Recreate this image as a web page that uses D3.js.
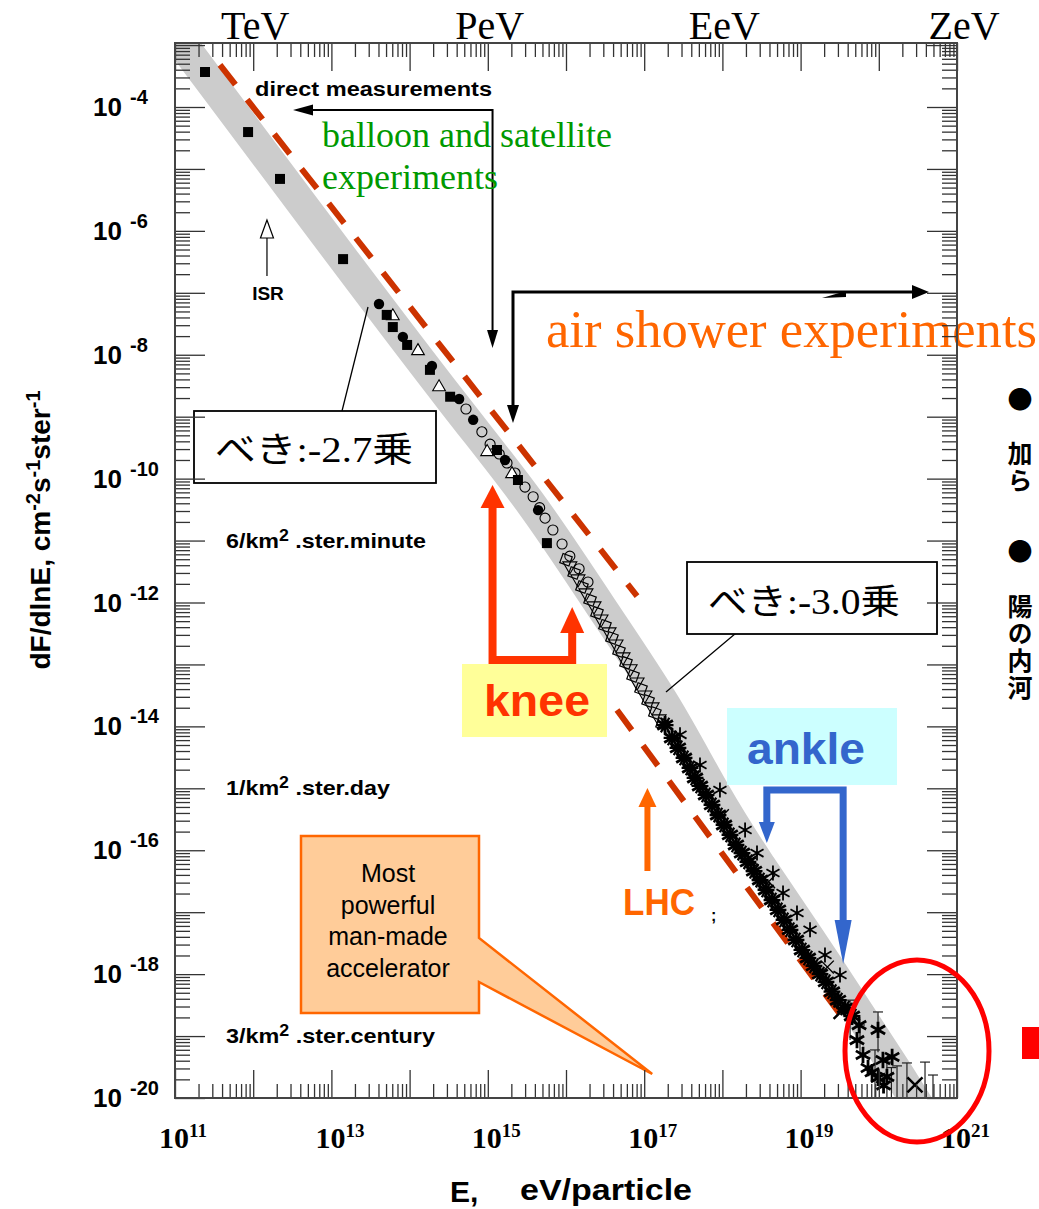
<!DOCTYPE html>
<html>
<head>
<meta charset="utf-8">
<script src="https://cdn.jsdelivr.net/npm/d3@7"></script>
<style>
  body { margin: 0; background: #fff; }
</style>
</head>
<body>
<div id="chart"></div>
<script>
// ---- data (E in eV, flux dF/dlnE in cm^-2 s^-1 ster^-1) ----

// grey band: centre of the world-data envelope
const bandE = [6.4e10, 2.35e11, 1.58e13, 4.42e14, 3.78e15, 2.72e16, 2.01e17, 8.0e17, 3.03e18, 1.24e19, 7.7e19, 1.87e20, 6.07e20];
const bandF = [3.17e-3, 3.54e-4, 2.92e-7, 1.15e-9, 4.05e-11, 8.8e-13, 2.21e-14, 7.8e-16, 5.6e-17, 4.3e-18, 1.26e-19, 2.27e-20, 2.1e-21];

// red dashed power laws (two pieces)
const fit1E = [3.76e11, 8.1e16], fit1F = [4.77e-4, 1.27e-12];
const fit2E = [4.49e16, 4.29e19], fit2F = [1.84e-14, 1.35e-19];

// direct measurements + low energy air showers
const filledSquares = [[2.42e11, 3.67e-4], [8.6e11, 3.94e-5], [2.2e12, 6.9e-6], [1.41e13, 3.5e-7],
  [5.1e13, 4.4e-8], [6.1e13, 2.8e-8], [9.3e13, 1.44e-8], [1.82e14, 5.7e-9], [3.3e14, 2.1e-9],
  [1.31e15, 2.9e-10], [2.43e15, 9.5e-11], [5.7e15, 9.1e-12]];
const filledCircles = [[4.06e13, 6.6e-8], [8.2e13, 1.94e-8], [1.93e14, 6.6e-9], [4.3e14, 1.93e-9],
  [6.5e14, 8.9e-10], [1.66e15, 2.0e-10], [4.4e15, 3.1e-11]];
const openTriangles = [[6.1e13, 4.2e-8], [1.28e14, 1.15e-8], [2.38e14, 3.0e-9], [9.8e14, 2.7e-10], [2.04e15, 1.19e-10]];
const openCircles = [[5.26e14, 1.33e-9], [8.4e14, 5.7e-10], [1.07e15, 3.6e-10], [1.4e15, 2.5e-10], [1.76e15, 1.79e-10],
  [2.23e15, 1.23e-10], [2.99e15, 7.3e-11], [3.8e15, 5.1e-11], [4.6e15, 3.4e-11], [5.4e15, 2.3e-11], [6.8e15, 1.48e-11],
  [8.9e15, 8.8e-12], [1.12e16, 5.6e-12], [1.47e16, 3.5e-12], [1.91e16, 2.14e-12]];
const openSquares = [[1.0e16, 4.9e-12], [1.27e16, 3.0e-12], [1.6e16, 1.78e-12], [2.03e16, 1.1e-12],
  [2.49e16, 6.8e-13], [3.15e16, 4.2e-13], [3.87e16, 2.68e-13], [4.76e16, 1.65e-13], [5.85e16, 1.06e-13],
  [7.2e16, 6.5e-14], [9.1e16, 4.0e-14], [1.12e17, 2.57e-14], [1.37e17, 1.65e-14], [1.69e17, 1.09e-14]];
const openDownTriangles = [[1.12e16, 3.9e-12], [1.42e16, 2.4e-12], [1.8e16, 1.43e-12], [2.28e16, 8.8e-13],
  [2.8e16, 5.4e-13], [3.55e16, 3.35e-13], [4.36e16, 2.14e-13], [5.36e16, 1.32e-13], [6.6e16, 8.5e-14],
  [8.1e16, 5.2e-14], [1.02e17, 3.2e-14], [1.26e17, 2.06e-14], [1.55e17, 1.32e-14]];

// high energy air shower data
const stars = [[1.85e17, 1.05e-14], [2.27e17, 6.5e-15], [2.7e17, 4.5e-15], [3.23e17, 3.09e-15],
  [3.85e17, 2.13e-15], [4.47e17, 1.47e-15], [5.17e17, 1.09e-15], [6.17e17, 7.8e-16], [7.36e17, 5.4e-16],
  [8.79e17, 3.7e-16], [1.05e18, 2.56e-16], [1.25e18, 1.77e-16], [1.49e18, 1.22e-16], [1.78e18, 9.0e-17],
  [2.12e18, 6.5e-17], [2.54e18, 4.6e-17], [3.03e18, 3.3e-17], [3.61e18, 2.29e-17], [4.31e18, 1.57e-17],
  [5.14e18, 1.09e-17], [6.14e18, 7.5e-18], [7.31e18, 5.2e-18], [8.73e18, 3.56e-18], [1.04e19, 2.45e-18],
  [1.24e19, 1.82e-18], [1.48e19, 1.36e-18], [1.77e19, 1.0e-18], [2.11e19, 7.5e-19], [2.52e19, 5.2e-19],
  [3.01e19, 3.8e-19], [3.7e19, 2.84e-19], [4.54e19, 2.11e-19]];
const stars2 = [[2.87e17, 7.3e-15], [5.17e17, 2.38e-15], [9.3e17, 9.4e-16], [1.95e18, 2.12e-16],
  [2.77e18, 9.0e-17], [4.43e18, 4.3e-17], [5.96e18, 2.04e-17], [8.99e18, 9.7e-18], [1.32e19, 5.2e-18],
  [2.05e19, 2.04e-18], [3.19e19, 9.7e-19]];
const crosses = [[1.0e18, 3.6e-16], [2.4e18, 7.0e-17], [3.9e18, 3.1e-17], [2.2e19, 1.3e-18]];
const tailStars = [[5.26e19, 8.6e-20], [6.28e19, 4.95e-20], [9.77e19, 1.26e-19], [7.28e19, 3.05e-20],
  [1.13e20, 4.1e-20], [1.27e20, 2.19e-20], [9.77e19, 2.11e-20], [1.48e20, 4.6e-20], [5.6e19, 1.5e-19],
  [8.2e19, 2.6e-20], [1.15e20, 1.6e-20]];
const tailCross = [[2.9e20, 1.63e-20], [3.3e19, 2.5e-19]];
const tailPlus = [[4.66e20, 1.51e-20]];
// error bars: energy, upper flux, lower flux
const errE = [4.29e19, 5.75e19, 9.77e19, 8.94e19, 1.27e20, 1.71e20, 2.29e20, 3.9e20, 4.93e20, 1.45e20];
const errHi = [3.8e-19, 1.51e-19, 2.45e-19, 5.97e-20, 3.8e-20, 3.3e-20, 3.68e-20, 3.8e-20, 2.35e-20, 3.1e-20];
const errLo = [8.6e-20, 4.95e-20, 5.5e-20, 1e-21, 1e-21, 1e-21, 1e-21, 1e-21, 1e-21, 1e-21];

// axis labels
const topLabels = [["TeV", 1e12], ["PeV", 1e15], ["EeV", 1e18], ["ZeV", 1e21]];
const xLabelExp = [11, 13, 15, 17, 19, 21];
const yLabelExp = [-4, -6, -8, -10, -12, -14, -16, -18, -20];
const rateLabels = [["6/km", " .ster.minute", 1e-11, 200], ["1/km", " .ster.day", 1e-15, 164], ["3/km", " .ster.century", 1e-19, 209]];

// ---- drawing ----
const W = 1039, H = 1209;
const plotTop = 43;
const svg = d3.select("#chart").append("svg")
  .attr("width", W).attr("height", H)
  .style("font-family", "'Liberation Sans', Arial, sans-serif");
svg.append("rect").attr("width", W).attr("height", H).attr("fill", "#fff");

const x = d3.scaleLog().domain([1e11, 1e21]).range([175, 957]);
const y = d3.scaleLog().domain([1e-20, 1e-4]).range([1098, 107]);
const x0 = x.range()[0], x1 = x.range()[1], y0 = y.range()[0];

svg.append("clipPath").attr("id", "plotclip").append("rect")
  .attr("x", x0).attr("y", plotTop).attr("width", x1 - x0).attr("height", y0 - plotTop);

const plot = svg.append("g").attr("clip-path", "url(#plotclip)");

// grey band
const line = d3.line().x(d => x(d[0])).y(d => y(d[1]));
plot.append("path")
  .datum(d3.zip(bandE, bandF))
  .attr("d", line.curve(d3.curveBasis))
  .attr("fill", "none").attr("stroke", "#cccccc").attr("stroke-width", 31);

// dashed fits
const straight = d3.line().x(d => x(d[0])).y(d => y(d[1]));
[[fit1E, fit1F], [fit2E, fit2F]].forEach(f => {
  plot.append("path").datum(d3.zip(f[0], f[1]))
    .attr("d", straight)
    .attr("fill", "none").attr("stroke", "#cc3300").attr("stroke-width", 6)
    .attr("stroke-dasharray", "25,19");
});

// error bars
const eb = plot.append("g").attr("stroke", "#222").attr("stroke-width", 1.2);
errE.forEach((e, i) => {
  eb.append("line").attr("x1", x(e)).attr("x2", x(e)).attr("y1", y(errHi[i])).attr("y2", y(errLo[i]));
  eb.append("line").attr("x1", x(e) - 5).attr("x2", x(e) + 5).attr("y1", y(errHi[i])).attr("y2", y(errHi[i]));
});

function marks(data, type, size, fill, stroke, sw, rot) {
  plot.append("g").selectAll("path").data(data).enter().append("path")
    .attr("transform", d => `translate(${x(d[0])},${y(d[1])})` + (rot ? ` rotate(${rot})` : ""))
    .attr("d", d3.symbol(type, size))
    .attr("fill", fill).attr("stroke", stroke).attr("stroke-width", sw);
}
marks(openCircles, d3.symbolCircle, 80, "none", "#000", 1.1);
marks(openSquares, d3.symbolSquare, 95, "none", "#000", 1.2, 20);
marks(openDownTriangles, d3.symbolTriangle, 85, "none", "#000", 1.1, 180);
marks(openTriangles, d3.symbolTriangle, 70, "#fff", "#000", 1.1);
marks(filledSquares, d3.symbolSquare, 100, "#000", "none", 0);
marks(filledCircles, d3.symbolCircle, 85, "#000", "none", 0);
marks(stars, d3.symbolAsterisk, 230, "none", "#000", 2.8);
marks(stars, d3.symbolAsterisk, 200, "none", "#000", 2.2, 30);
marks(stars2, d3.symbolAsterisk, 160, "none", "#000", 1.8);
marks(crosses, d3.symbolTimes, 110, "none", "#000", 1.4);
marks(tailStars, d3.symbolAsterisk, 190, "none", "#000", 2.8);
marks(tailCross, d3.symbolTimes, 150, "none", "#000", 2.5);
marks(tailPlus, d3.symbolPlus, 190, "#000", "none", 0);

// ---- annotations ----
const ann = svg.append("g");
function head(tx, ty, dir, len, hw, color) {
  // dir: "up", "down", "left", "right"
  let pts;
  if (dir === "up") pts = [[tx, ty], [tx - hw, ty + len], [tx + hw, ty + len]];
  if (dir === "down") pts = [[tx, ty], [tx - hw, ty - len], [tx + hw, ty - len]];
  if (dir === "left") pts = [[tx, ty], [tx + len, ty - hw], [tx + len, ty + hw]];
  if (dir === "right") pts = [[tx, ty], [tx - len, ty - hw], [tx - len, ty + hw]];
  return ann.append("polygon").attr("points", pts.map(p => p.join(",")).join(" ")).attr("fill", color);
}
function poly(pts, color, w) {
  ann.append("polyline").attr("points", pts.map(p => p.join(",")).join(" "))
    .attr("fill", "none").attr("stroke", color).attr("stroke-width", w).attr("stroke-linejoin", "miter");
}

// direct measurements
ann.append("text").attr("x", 255).attr("y", 96).attr("font-size", 20).attr("font-weight", "bold")
  .attr("textLength", 237).attr("lengthAdjust", "spacingAndGlyphs").text("direct measurements");
const xPeV = x(1.15e15);
poly([[305, 110], [xPeV, 110], [xPeV, 332]], "#000", 2);
head(293, 110, "left", 20, 5.5, "#000");
head(xPeV, 348, "down", 18, 5.5, "#000");
ann.append("text").attr("x", 322).attr("y", 147).attr("font-size", 36).attr("fill", "#009900")
  .style("font-family", "'Liberation Serif', 'Times New Roman', serif").text("balloon and satellite");
ann.append("text").attr("x", 322).attr("y", 189).attr("font-size", 36).attr("fill", "#009900")
  .style("font-family", "'Liberation Serif', 'Times New Roman', serif").text("experiments");

// air shower experiments
const xAS = x(2.1e15);
poly([[xAS, 407], [xAS, 292], [915, 292]], "#000", 3);
head(xAS, 423, "down", 18, 6, "#000");
head(929, 292, "right", 17, 7, "#000");
ann.append("polygon").attr("points", "822,298 846,291 846,297").attr("fill", "#000");
ann.append("text").attr("x", 546).attr("y", 347).attr("font-size", 52).attr("fill", "#ff6600")
  .attr("textLength", 491).attr("lengthAdjust", "spacingAndGlyphs")
  .style("font-family", "'Liberation Serif', 'Times New Roman', serif").text("air shower experiments");

// ISR
const xISR = x(1.5e12);
head(xISR, 220, "up", 18, 6.5, "#fff").attr("stroke", "#000").attr("stroke-width", 1.2);
ann.append("line").attr("x1", xISR).attr("x2", xISR).attr("y1", 238).attr("y2", 276).attr("stroke", "#000").attr("stroke-width", 1.2);
ann.append("text").attr("x", xISR + 1).attr("y", 300).attr("text-anchor", "middle").attr("font-size", 19)
  .attr("font-weight", "bold").text("ISR");

// power law boxes
const jp = "'Liberation Serif', 'Noto Sans CJK JP', serif";
ann.append("line").attr("x1", 342).attr("y1", 411).attr("x2", 368).attr("y2", 307).attr("stroke", "#000").attr("stroke-width", 1.3);
ann.append("rect").attr("x", 194).attr("y", 411).attr("width", 242).attr("height", 72)
  .attr("fill", "#fff").attr("stroke", "#000").attr("stroke-width", 1.8);
ann.append("text").attr("x", 215).attr("y", 462).attr("font-size", 35).style("font-family", jp)
  .attr("textLength", 198).attr("lengthAdjust", "spacingAndGlyphs").text("べき:-2.7乗");
ann.append("line").attr("x1", 742).attr("y1", 628).attr("x2", 666).attr("y2", 692).attr("stroke", "#000").attr("stroke-width", 1.3);
ann.append("rect").attr("x", 687).attr("y", 562).attr("width", 250).attr("height", 72)
  .attr("fill", "#fff").attr("stroke", "#000").attr("stroke-width", 1.8);
ann.append("text").attr("x", 708).attr("y", 614).attr("font-size", 35).style("font-family", jp)
  .attr("textLength", 192).attr("lengthAdjust", "spacingAndGlyphs").text("べき:-3.0乗");

// knee
const xK1 = x(1.15e15), xK2 = x(1.2e16);
poly([[xK1, 505], [xK1, 660], [xK2, 660], [xK2, 631]], "#ff3300", 8);
head(xK1, 485, "up", 23, 12, "#ff3300");
head(xK2, 607, "up", 26, 12, "#ff3300");
ann.append("rect").attr("x", 462).attr("y", 664).attr("width", 145).attr("height", 73).attr("fill", "#ffff99");
ann.append("text").attr("x", 484).attr("y", 716).attr("font-size", 44).attr("font-weight", "bold")
  .attr("fill", "#ff3300").attr("textLength", 106).attr("lengthAdjust", "spacingAndGlyphs").text("knee");

// ankle
const xA1 = x(3.7e18), xA2 = x(3.5e19);
ann.append("rect").attr("x", 727).attr("y", 708).attr("width", 170).attr("height", 77).attr("fill", "#ccffff");
ann.append("text").attr("x", 747).attr("y", 764).attr("font-size", 44).attr("font-weight", "bold")
  .attr("fill", "#3366cc").attr("textLength", 118).attr("lengthAdjust", "spacingAndGlyphs").text("ankle");
poly([[xA1, 823], [xA1, 790], [xA2, 790], [xA2, 921]], "#3366cc", 7);
head(xA1, 843, "down", 21, 8, "#3366cc");
head(xA2, 964, "down", 44, 8.5, "#3366cc");

// LHC
const xL = x(1.1e17);
ann.append("line").attr("x1", xL).attr("x2", xL).attr("y1", 871).attr("y2", 805).attr("stroke", "#ff6600").attr("stroke-width", 6);
head(xL, 788, "up", 19, 9, "#ff6600");
ann.append("text").attr("x", 623).attr("y", 915).attr("font-size", 36).attr("font-weight", "bold")
  .attr("fill", "#ff6600").attr("textLength", 72).attr("lengthAdjust", "spacingAndGlyphs").text("LHC");
ann.append("text").attr("x", 711).attr("y", 921).attr("font-size", 16).attr("font-weight", "bold").text(";");

// callout
const tipX = x(1e17) + 8, tipY = y0 - 24;
ann.append("polygon")
  .attr("points", [[301, 836], [479, 836], [479, 938], [tipX, tipY], [479, 982], [479, 1013], [301, 1013]].map(p => p.join(",")).join(" "))
  .attr("fill", "#ffcc99").attr("stroke", "#ff6600").attr("stroke-width", 2.5);
["Most", "powerful", "man-made", "accelerator"].forEach((t, i) => {
  ann.append("text").attr("x", 388).attr("y", 882 + i * 31.7).attr("text-anchor", "middle")
    .attr("font-size", 25).text(t);
});

// rate labels
rateLabels.forEach(r => {
  const t = ann.append("text").attr("x", 226).attr("y", y(r[2]) + 7).attr("font-size", 21).attr("font-weight", "bold")
    .attr("textLength", r[3]).attr("lengthAdjust", "spacingAndGlyphs");
  t.append("tspan").text(r[0]);
  t.append("tspan").attr("dy", -7).attr("font-size", 16).text("2");
  t.append("tspan").attr("dy", 7).text(r[1]);
});

// ---- axes ----
const xMajor = d3.range(11, 22).map(k => Math.pow(10, k));
const xMinor = d3.range(11, 21).flatMap(k => d3.range(2, 10).map(m => m * Math.pow(10, k)));
const yMajor = d3.range(-20, -2).map(k => Math.pow(10, k));
const yMinor = d3.range(-20, -3).flatMap(k => d3.range(2, 10).map(m => m * Math.pow(10, k)))
  .filter(v => y(v) > plotTop + 1);

function axisG(axis, tx, ty) {
  const g = svg.append("g").attr("transform", `translate(${tx},${ty})`).call(axis);
  g.select(".domain").remove();
  g.selectAll(".tick line").attr("stroke", "#333").attr("stroke-width", 1.3);
  return g;
}
axisG(d3.axisBottom(x).tickValues(xMajor).tickSize(-28).tickFormat(""), 0, y0);
axisG(d3.axisBottom(x).tickValues(xMinor).tickSize(-14).tickFormat(""), 0, y0);
axisG(d3.axisTop(x).tickValues(xMajor).tickSize(-28).tickFormat(""), 0, plotTop);
axisG(d3.axisTop(x).tickValues(xMinor).tickSize(-14).tickFormat(""), 0, plotTop);
axisG(d3.axisLeft(y).tickValues(yMajor).tickSize(-30).tickFormat(""), x0, 0);
axisG(d3.axisLeft(y).tickValues(yMinor).tickSize(-15).tickFormat(""), x0, 0);
axisG(d3.axisRight(y).tickValues(yMajor).tickSize(-30).tickFormat(""), x1, 0);
axisG(d3.axisRight(y).tickValues(yMinor).tickSize(-15).tickFormat(""), x1, 0);

svg.append("rect").attr("x", x0).attr("y", plotTop).attr("width", x1 - x0).attr("height", y0 - plotTop)
  .attr("fill", "none").attr("stroke", "#444").attr("stroke-width", 2);

// y tick labels
yLabelExp.forEach(k => {
  const yy = y(Math.pow(10, k));
  svg.append("text").attr("x", 93).attr("y", yy + 9).attr("font-size", 26).attr("font-weight", "bold").text("10");
  svg.append("text").attr("x", 130).attr("y", yy - 3).attr("font-size", 20).attr("font-weight", "bold").text(String(k));
});

// x tick labels
xLabelExp.forEach(k => {
  const t = svg.append("text").attr("x", x(Math.pow(10, k)) - 16).attr("y", 1148)
    .attr("font-size", 30).attr("font-weight", "bold")
    .style("font-family", "'Liberation Serif', 'Times New Roman', serif");
  t.append("tspan").text("10");
  t.append("tspan").attr("dy", -11).attr("font-size", 19).text(String(k));
});

// top labels
topLabels.forEach(d => {
  svg.append("text").attr("x", x(d[1]) + (d[0] === "ZeV" ? 7 : 2)).attr("y", 39).attr("text-anchor", "middle")
    .attr("font-size", 40).style("font-family", "'Liberation Serif', 'Times New Roman', serif").text(d[0]);
});

// axis titles
const yt = svg.append("text").attr("transform", "translate(50,530) rotate(-90)").attr("text-anchor", "middle")
  .attr("font-size", 28).attr("font-weight", "bold");
yt.append("tspan").text("dF/dlnE, cm");
yt.append("tspan").attr("dy", -10).attr("font-size", 20).text("-2");
yt.append("tspan").attr("dy", 10).text("s");
yt.append("tspan").attr("dy", -10).attr("font-size", 20).text("-1");
yt.append("tspan").attr("dy", 10).text("ster");
yt.append("tspan").attr("dy", -10).attr("font-size", 20).text("-1");

svg.append("text").attr("x", 450).attr("y", 1202).attr("font-size", 30).attr("font-weight", "bold").text("E,");
svg.append("text").attr("x", 520).attr("y", 1200).attr("font-size", 30).attr("font-weight", "bold")
  .attr("textLength", 172).attr("lengthAdjust", "spacingAndGlyphs").text("eV/particle");

// red ellipse and marker at the right
svg.append("ellipse").attr("cx", 917).attr("cy", 1051).attr("rx", 72).attr("ry", 91)
  .attr("fill", "none").attr("stroke", "#ff0000").attr("stroke-width", 5);
svg.append("rect").attr("x", 1022).attr("y", 1027).attr("width", 17).attr("height", 32).attr("fill", "#ff0000");

// side text at the right edge, set vertically (one column of characters per block)
const sideBlocks = [["●", 387], ["加ら", 441], ["●", 539], ["陽の内河", 594]];
sideBlocks.forEach(b => {
  svg.append("text").attr("x", 1020).attr("y", b[1]).attr("font-size", 25).attr("font-weight", "bold")
    .attr("letter-spacing", 2)
    .style("font-family", "'Noto Sans CJK JP', sans-serif")
    .style("writing-mode", "vertical-rl")
    .text(b[0]);
});
</script>
</body>
</html>
